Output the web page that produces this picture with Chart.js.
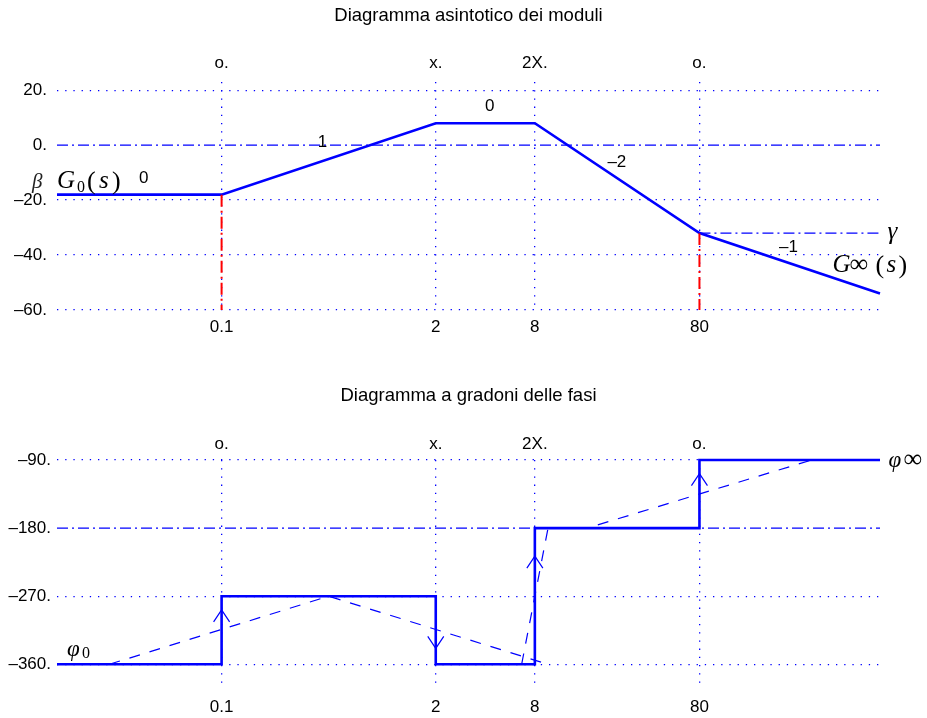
<!DOCTYPE html>
<html>
<head>
<meta charset="utf-8">
<script src="https://cdn.jsdelivr.net/npm/chart.js@4.4.1/dist/chart.umd.min.js"></script>
<style>
  html, body { margin: 0; padding: 0; background: #fff; }
  #wrap { position: relative; width: 927px; height: 718px; }
  canvas { position: absolute; left: 0; }
</style>
</head>
<body>
<div id="wrap">
  <canvas id="magChart" width="927" height="359" style="top:0"></canvas>
  <canvas id="phaseChart" width="927" height="359" style="top:359px"></canvas>
</div>
<script>
// asse delle frequenze (logaritmico)
const xMin = 0.01, xMax = 1000;
const breakFreqs = [0.1, 2, 8, 80];
const breakLabels = ['0.1', '2', '8', '80'];
const breakTypes = ['o.', 'x.', '2X.', 'o.'];

// diagramma dei moduli
const magTicks = [20, 0, -20, -40, -60];
const magTickLabels = ['20.', '0.', '–20.', '–40.', '–60.'];
const magX = [0.01, 0.1, 2, 8, 80, 1000];
const magY = [-18, -18, 8, 8, -32, -54];
const zeroX = [0.01, 1000];
const zeroY = [0, 0];
const gammaX = [80, 1000];
const gammaY = [-32, -32];
const redAX = [0.1, 0.1];
const redAY = [-18, -60];
const redBX = [80, 80];
const redBY = [-32, -60];
const slopeText = ['0', '1', '0', '–2', '–1'];
const slopeX = [0.0336, 0.41, 4.26, 25.2, 278];
const slopeY = [-12, 1.2, 14, -6.1, -37.2];

// diagramma delle fasi
const phaseTicks = [-90, -180, -270, -360];
const phaseTickLabels = ['–90.', '–180.', '–270.', '–360.'];
const stepX = [0.01, 0.1, 2, 8, 80, 1000];
const stepY = [-360, -270, -360, -180, -90, -90];
const midX = [0.01, 1000];
const midY = [-180, -180];
const dashAX = [0.0208, 0.447, 9.62];
const dashAY = [-360, -270, -360];
const dashBX = [6.65, 9.62, 16.6, 385];
const dashBY = [-360, -180, -180, -90];
const arrowX = [0.1, 2, 8, 80];
const arrowY = [-288, -339, -217, -108];
const arrowDir = [1, -1, 1, 1];

const BLUE = '#0000ff';
const RED = '#ff0000';
const DOT = [1.3, 6.9];
const DASHDOT = [11, 4, 2, 4];
const SANS = '"Liberation Sans", Arial, sans-serif';
const SERIF = '"Liberation Serif", "Times New Roman", serif';

Chart.defaults.animation = false;
Chart.defaults.font.family = SANS;

const pts = (xs, ys) => xs.map((x, i) => ({ x: x, y: ys[i] }));

function line(xs, ys, color, width, dash, extra) {
    return Object.assign({
        data: pts(xs, ys),
        borderColor: color,
        borderWidth: width,
        borderDash: dash || [],
        pointRadius: 0,
        tension: 0,
        fill: false,
        clip: false
    }, extra || {});
}

// scale comuni
function xScales(padTop, padBottom, hTop, hBottom) {
    const tickFont = { family: SANS, size: 17 };
    return {
        x: {
            type: 'logarithmic', position: 'bottom', min: xMin, max: xMax,
            afterBuildTicks: s => { s.ticks = breakFreqs.map(v => ({ value: v })); },
            afterFit: s => { s.height = hBottom; },
            ticks: { callback: (v, i) => breakLabels[i], autoSkip: false, maxRotation: 0, padding: padBottom, color: '#000', font: tickFont },
            grid: { color: BLUE, lineWidth: 1.3, drawTicks: false },
            border: { display: false, dash: DOT }
        },
        x2: {
            type: 'logarithmic', position: 'top', min: xMin, max: xMax,
            afterBuildTicks: s => { s.ticks = breakFreqs.map(v => ({ value: v })); },
            afterFit: s => { s.height = hTop; },
            ticks: { callback: (v, i) => breakTypes[i], autoSkip: false, maxRotation: 0, padding: padTop, color: '#000', font: tickFont },
            grid: { display: false, drawTicks: false },
            border: { display: false }
        }
    };
}

function yScale(min, max, ticks, labels, hidden, pad) {
    return {
        type: 'linear', min: min, max: max,
        afterBuildTicks: s => { s.ticks = ticks.map(v => ({ value: v })); },
        afterFit: s => { s.width = 57; },
        ticks: { callback: (v, i) => labels[i], padding: pad, color: '#000', font: { family: SANS, size: 17 } },
        grid: {
            color: c => (c.tick && c.tick.value === hidden) ? 'rgba(0,0,0,0)' : BLUE,
            lineWidth: 1.3, drawTicks: false
        },
        border: { display: false, dash: DOT }
    };
}

// testo matematico a pezzi: [testo, font, dx, dy]
function drawMath(ctx, x, y, parts) {
    ctx.textAlign = 'left';
    ctx.textBaseline = 'alphabetic';
    parts.forEach(p => {
        ctx.font = p[1];
        ctx.fillText(p[0], x + p[2], y + p[3]);
    });
}

const IT = 'italic 25px ' + SERIF;
const RM = '26px ' + SERIF;
const SUB = '16px ' + SERIF;

function notes(opts) {
    return {
        id: 'notes',
        afterDatasetsDraw(chart) {
            const { ctx, chartArea, scales } = chart;
            const sx = scales.x, sy = scales.y;
            ctx.save();
            ctx.fillStyle = '#000';
            ctx.font = '18.5px ' + SANS;
            ctx.textAlign = 'center';
            ctx.textBaseline = 'alphabetic';
            ctx.fillText(opts.title, (chartArea.left + chartArea.right) / 2, opts.titleY);

            (opts.labels || []).forEach(l => {
                ctx.font = '17px ' + SANS;
                ctx.textAlign = 'center';
                ctx.textBaseline = 'middle';
                ctx.fillText(l.t, sx.getPixelForValue(l.x), sy.getPixelForValue(l.y));
            });

            (opts.math || []).forEach(m => {
                ctx.fillStyle = m.color || '#000';
                drawMath(ctx, sx.getPixelForValue(m.x), sy.getPixelForValue(m.y), m.parts);
            });

            if (opts.arrows) {
                ctx.strokeStyle = BLUE;
                ctx.lineWidth = 1.2;
                opts.arrows.x.forEach((v, i) => {
                    const px = sx.getPixelForValue(v);
                    const py = sy.getPixelForValue(opts.arrows.y[i]);
                    const d = opts.arrows.dir[i];
                    ctx.beginPath();
                    ctx.moveTo(px - 8, py + d * 12);
                    ctx.lineTo(px, py);
                    ctx.lineTo(px + 8, py + d * 12);
                    ctx.stroke();
                });
            }
            ctx.restore();
        }
    };
}

// moduli
new Chart(document.getElementById('magChart'), {
    type: 'line',
    data: {
        datasets: [
            line(zeroX, zeroY, BLUE, 1.3, DASHDOT),
            line(gammaX, gammaY, BLUE, 1.3, DASHDOT),
            line(redAX, redAY, RED, 2, [12, 4, 2, 4]),
            line(redBX, redBY, RED, 2, [12, 4, 2, 4]),
            line(magX, magY, BLUE, 2.6)
        ]
    },
    options: {
        responsive: false,
        layout: { padding: { left: 0, right: 47, top: 0, bottom: 0 } },
        plugins: { legend: { display: false }, tooltip: { enabled: false } },
        scales: Object.assign(xScales(8, 7, 82, 49), { y: yScale(-60, 23, magTicks, magTickLabels, 0, 10) })
    },
    plugins: [notes({
        title: 'Diagramma asintotico dei moduli', titleY: 21,
        labels: slopeText.map((t, i) => ({ t: t, x: slopeX[i], y: slopeY[i] })),
        math: [
            { x: 0.00705, y: -15.6, color: '#222', parts: [['β', 'italic 21px ' + SERIF, 0, 0]] },
            { x: 0.01, y: -15.6, parts: [['G', IT, 0, 0], ['0', SUB, 20, 4], ['(', RM, 30, 1], ['s', IT, 42, 0], [')', RM, 55, 1]] },
            { x: 1109, y: -34.1, parts: [['γ', IT, 0, 0]] },
            { x: 514, y: -46.2, parts: [['G', IT, 0, 0], ['∞', '26px ' + SERIF, 17, 0], ['(', RM, 43, 1], ['s', IT, 54, 0], [')', RM, 66, 1]] }
        ]
    })]
});

// fasi
new Chart(document.getElementById('phaseChart'), {
    type: 'line',
    data: {
        datasets: [
            line(midX, midY, BLUE, 1.3, DASHDOT),
            line(dashAX, dashAY, BLUE, 1.2, [11, 10]),
            line(dashBX, dashBY, BLUE, 1.2, [11, 10]),
            line(stepX, stepY, BLUE, 2.6, null, { stepped: true })
        ]
    },
    options: {
        responsive: false,
        layout: { padding: { left: 0, right: 47, top: 0, bottom: 0 } },
        plugins: { legend: { display: false }, tooltip: { enabled: false } },
        scales: Object.assign(xScales(5, 10, 101, 31), { y: yScale(-390, -90, phaseTicks, phaseTickLabels, -180, 6) })
    },
    plugins: [notes({
        title: 'Diagramma a gradoni delle fasi', titleY: 42,
        math: [
            { x: 0.0115, y: -349.4, parts: [['φ', 'italic 23px ' + SERIF, 0, 0], ['0', SUB, 15, 2]] },
            { x: 1125, y: -99.3, parts: [['φ', 'italic 23px ' + SERIF, 0, 0], ['∞', '26px ' + SERIF, 15, 0]] }
        ],
        arrows: { x: arrowX, y: arrowY, dir: arrowDir }
    })]
});
</script>
</body>
</html>
